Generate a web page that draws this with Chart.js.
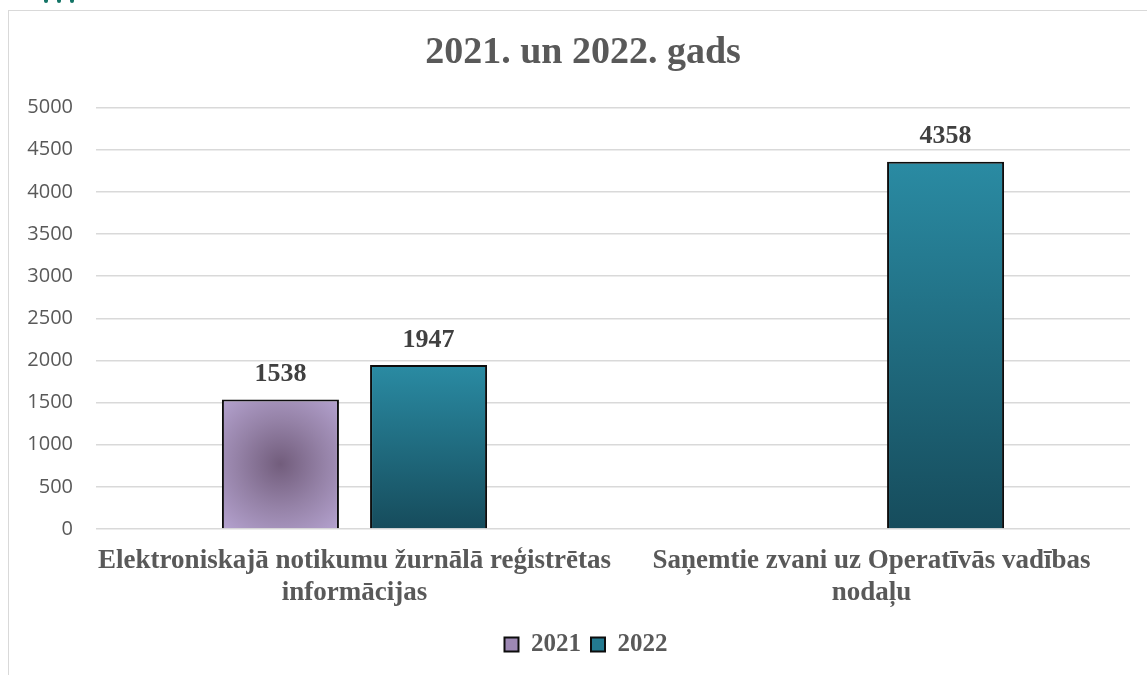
<!DOCTYPE html>
<html>
<head>
<meta charset="utf-8">
<script src="https://cdn.jsdelivr.net/npm/chart.js@4/dist/chart.umd.min.js"></script>
<style>
html,body{margin:0;padding:0;background:#fff;}
#wrap{position:relative;width:1147px;height:675px;overflow:hidden;}
#frame{position:absolute;left:8px;top:10px;width:1160px;height:700px;border-left:1.5px solid #d9d9d9;border-top:1.5px solid #d9d9d9;box-sizing:border-box;}
.dot{position:absolute;top:0;width:4px;height:3px;border-radius:0 0 2px 2px;background:#137466;}
canvas{position:absolute;left:0;top:0;}
</style>
</head>
<body>
<div id="wrap">
<div id="frame"></div>
<div class="dot" style="left:44px"></div>
<div class="dot" style="left:57px"></div>
<div class="dot" style="left:70px"></div>
<canvas id="c" width="1147" height="675"></canvas>
</div>
<script>
const titleText = "2021. un 2022. gads";
const categories = [
  ["Elektroniskajā notikumu žurnālā reģistrētas", "informācijas"],
  ["Saņemtie zvani uz Operatīvās vadības", "nodaļu"]
];
const seriesNames = ["2021", "2022"];
const values2021 = [1538, null];
const values2022 = [1947, 4358];
const yTicks = [0, 500, 1000, 1500, 2000, 2500, 3000, 3500, 4000, 4500, 5000];

const serif = "'Liberation Serif', 'Times New Roman', serif";
const gray = "#595959";

const gradientPlugin = {
  id: 'grad',
  beforeDatasetsDraw(chart) {
    const ctx = chart.ctx;
    chart.data.datasets.forEach((ds, i) => {
      const meta = chart.getDatasetMeta(i);
      meta.data.forEach(el => {
        const p = el.getProps(['x', 'y', 'base', 'width'], true);
        if (p.y == null || isNaN(p.y)) return;
        let g;
        if (i === 0) {
          const cx = p.x, cy = (p.y + p.base) / 2;
          const r = Math.max(p.width, p.base - p.y) * 0.68;
          g = ctx.createRadialGradient(cx, cy, 0, cx, cy, r);
          g.addColorStop(0, '#725d7c');
          g.addColorStop(0.5, '#9582a7');
          g.addColorStop(1, '#b5a3d0');
        } else {
          g = ctx.createLinearGradient(0, p.y, 0, p.base);
          g.addColorStop(0, '#2a8ba3');
          g.addColorStop(1, '#164c5c');
        }
        el.options = Object.assign({}, el.options, { backgroundColor: g });
      });
    });
  }
};

const labelPlugin = {
  id: 'vals',
  afterDatasetsDraw(chart) {
    const ctx = chart.ctx;
    ctx.save();
    ctx.font = "bold 26px " + serif;
    ctx.fillStyle = "#404040";
    ctx.textAlign = "center";
    ctx.textBaseline = "middle";
    chart.data.datasets.forEach((ds, i) => {
      const meta = chart.getDatasetMeta(i);
      meta.data.forEach((el, j) => {
        const v = ds.data[j];
        if (v == null) return;
        ctx.fillText(String(v), el.x, el.y - 25);
      });
    });
    ctx.restore();
  }
};

const shiftPlugin = {
  id: 'shift',
  afterLayout(chart) {
    if (chart.titleBlock) { chart.titleBlock.left += 16; }
    if (chart.legend) { chart.legend.left += 22; }
  }
};

new Chart(document.getElementById('c'), {
  type: 'bar',
  data: {
    labels: categories,
    datasets: [
      { label: seriesNames[0], data: values2021, borderColor: '#0d0d0d', borderWidth: 2,
        backgroundColor: '#9d88b4', categoryPercentage: 0.573, barPercentage: 0.79 },
      { label: seriesNames[1], data: values2022, borderColor: '#0d0d0d', borderWidth: 2,
        backgroundColor: '#237a90', categoryPercentage: 0.573, barPercentage: 0.79 }
    ]
  },
  options: {
    responsive: false,
    animation: false,
    layout: { padding: { left: 20, right: 17, top: 10, bottom: 8 } },
    plugins: {
      tooltip: { enabled: false },
      title: {
        display: true, text: titleText, color: gray,
        font: { family: serif, size: 38, weight: 'bold' },
        padding: { top: 20, bottom: 32 }
      },
      legend: {
        position: 'bottom',
        labels: {
          color: gray,
          font: { family: serif, size: 25, weight: 'bold' },
          boxWidth: 14, boxHeight: 14, padding: 10,
          generateLabels(chart) {
            return chart.data.datasets.map((ds, i) => ({
              text: ds.label, fillStyle: ds.backgroundColor, strokeStyle: '#0d0d0d',
              lineWidth: 2, datasetIndex: i, fontColor: gray
            }));
          }
        }
      }
    },
    scales: {
      x: {
        grid: { display: false },
        border: { display: false },
        ticks: { color: gray, font: { family: serif, size: 27, weight: 'bold', lineHeight: 1.185 },
                 padding: 8, maxRotation: 0 },
        afterFit(s) { s.height = 93; }
      },
      y: {
        min: 0, max: 5000,
        afterBuildTicks(s) { s.ticks = yTicks.map(v => ({ value: v })); },
        grid: { color: '#d9d9d9', lineWidth: 1.5, drawTicks: false },
        border: { display: false },
        ticks: { color: gray, font: { family: "'Open Sans', sans-serif", size: 20 }, padding: 23,
                 callback: v => String(v) },
        afterFit(s) { s.width = 76; }
      }
    }
  },
  plugins: [gradientPlugin, labelPlugin, shiftPlugin]
});
</script>
</body>
</html>
